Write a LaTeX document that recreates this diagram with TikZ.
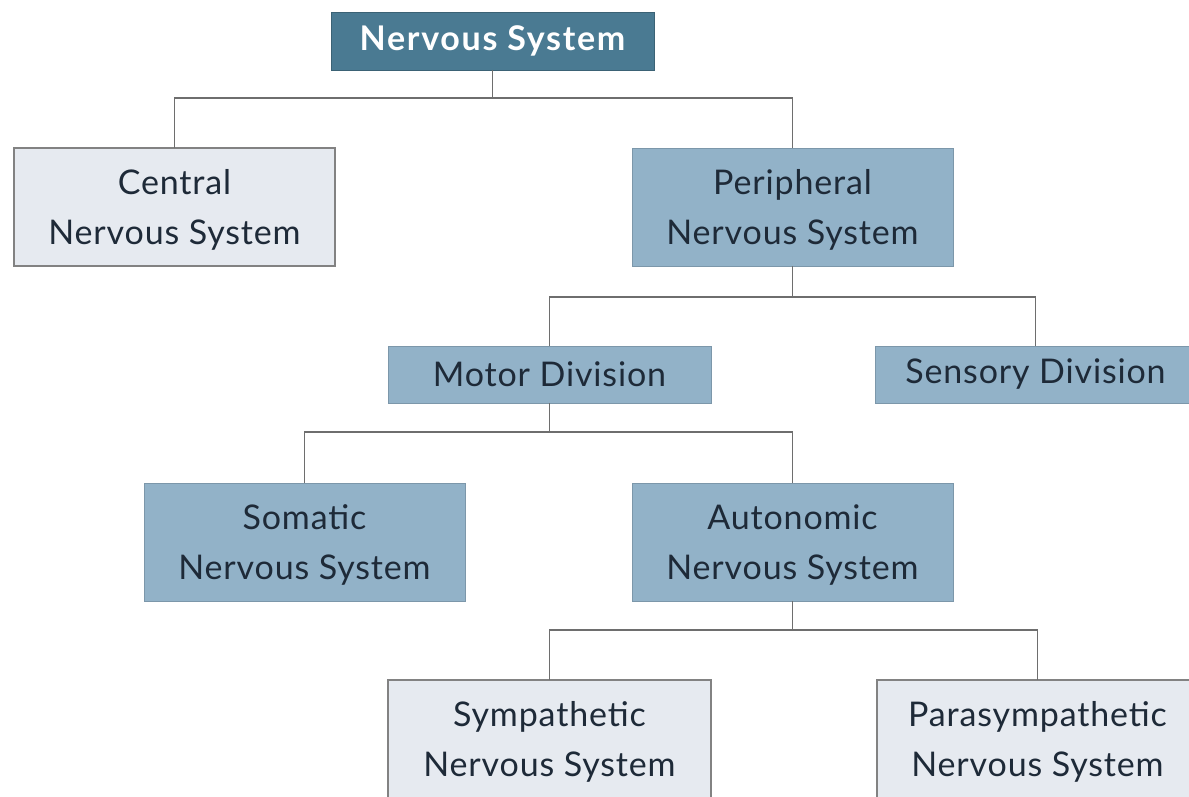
\documentclass[tikz,border=0pt]{standalone}
\usepackage{fontspec}
\setmainfont{Lato}[LetterSpace=2.5]
\begin{document}
\begin{tikzpicture}[x=1pt,y=-1pt,
  every node/.style={inner sep=0pt,outer sep=0pt,align=center,text=textdark,
    font=\fontsize{34}{50}\selectfont},
  titlebox/.style={rectangle,fill=titleblue,draw=titleblue!80!black,line width=0.8pt,
    text=white,font=\fontsize{34}{40}\selectfont\bfseries\addfontfeatures{LetterSpace=5},
    minimum width=323pt,minimum height=58pt},
  midbox/.style={rectangle,fill=midblue,draw=midblue!85!black,line width=0.6pt,
    minimum width=321pt},
  lightbox/.style={rectangle,fill=lightgrey,draw=boxedge,line width=1.2pt,
    minimum width=321pt,minimum height=118pt},
  tall/.style={minimum height=118pt},
  twoline/.style={text depth=-5pt},
  short/.style={minimum height=57pt},
  link/.style={draw=linegrey,line width=1.4pt}]
\definecolor{titleblue}{RGB}{74,122,146}
\definecolor{midblue}{RGB}{146,178,200}
\definecolor{lightgrey}{RGB}{230,234,240}
\definecolor{boxedge}{RGB}{130,130,130}
\definecolor{linegrey}{RGB}{110,110,110}
\definecolor{textdark}{RGB}{30,42,56}

\fill[white] (0,0) rectangle (1189,797);
\useasboundingbox (0,0) rectangle (1189,797);
\clip (-5,-5) rectangle (1194,802);

% boxes
\node[titlebox] (ns) at (492.5,41) {Nervous System};
\node[lightbox,twoline] (cns) at (174.5,207) {Central\\Nervous System};
\node[midbox,tall,twoline] (pns) at (792.5,207) {Peripheral\\Nervous System};
\node[midbox,short,minimum width=323pt] (motor) at (549.5,374.5) {Motor Division};
\node[midbox,tall,twoline] (som) at (304.5,542) {Somatic\\Nervous System};
\node[midbox,tall,twoline] (aut) at (792.5,542) {Autonomic\\Nervous System};
\node[lightbox,twoline,minimum width=323pt] (sym) at (549.5,739) {Sympathetic\\Nervous System};

% the two boxes on the right run past the edge of the page
\node[midbox,short,minimum width=360pt,anchor=west] (sens) at (875,374.5) {};
\node (senstext) at (1035.5,374.5) {Sensory Division};
\node[lightbox,minimum width=360pt,anchor=west] (para) at (877,739) {};
\node[twoline] (paratext) at (1037.5,739) {Parasympathetic\\Nervous System};

% bus junctions below each parent
\coordinate (b1) at (492.5,98);
\coordinate (b2) at (792.5,297);
\coordinate (b3) at (549.5,432);
\coordinate (b4) at (792.5,630);

% connectors
\path[link] (ns.south) -- (b1) -| (cns.north);
\path[link] (b1) -| (pns.north);
\path[link] (pns.south) -- (b2) -| (motor.north);
\path[link] (b2) -| (senstext |- sens.north);
\path[link] (motor.south) -- (b3) -| (som.north);
\path[link] (b3) -| (aut.north);
\path[link] (aut.south) -- (b4) -| (sym.north);
\path[link] (b4) -| (paratext |- para.north);
\end{tikzpicture}
\end{document}
